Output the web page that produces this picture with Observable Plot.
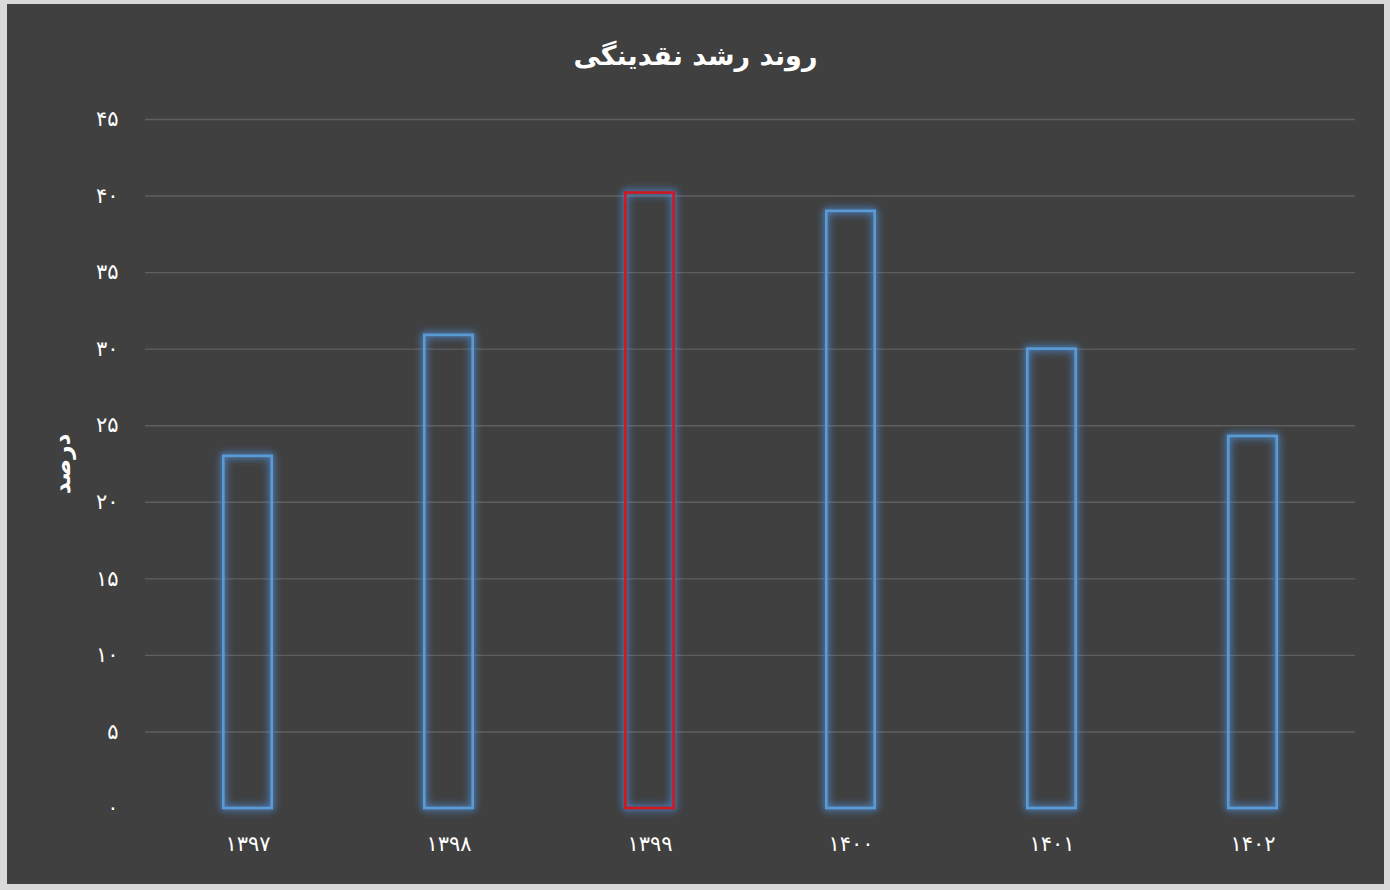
<!DOCTYPE html>
<html><head><meta charset="utf-8">
<script src="https://cdn.jsdelivr.net/npm/d3@7"></script>
<script src="https://cdn.jsdelivr.net/npm/@observablehq/plot@0.6"></script>
<style>
html,body{margin:0;padding:0;background:#d9d9d9;width:1390px;height:890px;overflow:hidden;}
#frame{position:absolute;left:7px;top:4px;width:1377px;height:880px;background:#404040;overflow:hidden;}
#title{height:90px;box-sizing:border-box;padding-top:38px;text-align:center;color:#fff;font-family:"DejaVu Sans",sans-serif;font-weight:bold;font-size:27px;line-height:1;direction:rtl;}
#chart svg{display:block;}
</style></head><body>
<div id="frame"><div id="title">روند رشد نقدینگی</div><div id="chart"></div></div>
<script>
const years = ["۱۳۹۷", "۱۳۹۸", "۱۳۹۹", "۱۴۰۰", "۱۴۰۱", "۱۴۰۲"];
const growth = [23, 30.9, 40.2, 39, 30, 24.3];
const highlightYear = "۱۳۹۹";
const yTicks = [0, 5, 10, 15, 20, 25, 30, 35, 40, 45];
const yTickLabels = ["۰", "۵", "۱۰", "۱۵", "۲۰", "۲۵", "۳۰", "۳۵", "۴۰", "۴۵"];
const yLabel = "درصد";

const data = years.map((y, i) => ({year: y, value: growth[i]}));
const blue = "#5b9bd5", red = "#d4161e";

const chart = Plot.plot({
  width: 1377,
  height: 790,
  marginLeft: 138,
  marginRight: 29,
  marginTop: 25,
  marginBottom: 76,
  style: {background: "transparent", color: "#fff", fontFamily: "DejaVu Sans, sans-serif"},
  x: {domain: years, paddingInner: 0.757, paddingOuter: 0.3785, align: 0.5},
  y: {domain: [0, 45]},
  marks: [
    Plot.ruleY(yTicks.filter(t => t > 0), {stroke: "#5f5f5f", strokeWidth: 1.4}),
    Plot.barY(data, {
      x: "year", y: "value",
      fill: "none",
      stroke: d => d.year === highlightYear ? red : blue,
      strokeWidth: 2.6,
      insetLeft: 0.3, insetRight: 0.3
    }),
    Plot.axisY({
      ticks: yTicks,
      tickFormat: (d) => yTickLabels[yTicks.indexOf(d)],
      tickSize: 0,
      tickPadding: 27,
      fontSize: 21,
      fill: "#fff",
      label: yLabel,
      labelAnchor: "center",
      labelArrow: "none",
      labelOffset: 92
    }),
    Plot.axisX({
      tickSize: 0,
      tickPadding: 28,
      fontSize: 21,
      fill: "#fff",
      label: null
    })
  ]
});
document.getElementById("chart").appendChild(chart);
const svg = d3.select(chart);
svg.selectAll('g[aria-label="bar"]').style("filter", "drop-shadow(0 0 4px rgba(80,150,230,0.9)) drop-shadow(0 0 2px rgba(80,150,230,0.6))");
svg.selectAll('g[aria-label="y-axis label"] text, g[aria-label="y-axis label"]').style("font-size", "23px").style("font-weight", "bold");
</script>
</body></html>
